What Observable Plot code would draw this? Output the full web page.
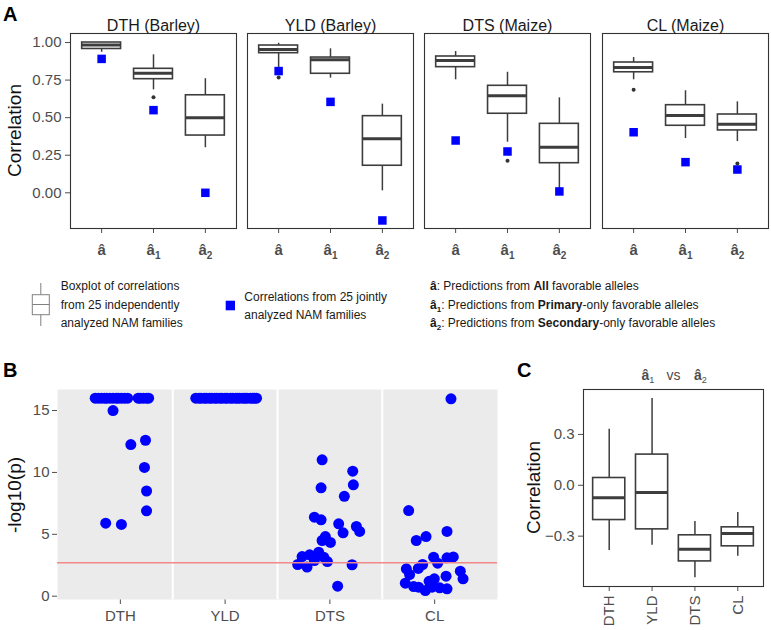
<!DOCTYPE html>
<html><head><meta charset="utf-8">
<script src="https://cdn.jsdelivr.net/npm/d3@7"></script>
<script src="https://cdn.jsdelivr.net/npm/@observablehq/plot@0.6"></script>
<style>
body{margin:0;background:#fff;}
#root{position:relative;width:771px;height:630px;overflow:hidden;font-family:"Liberation Sans",Arial,Helvetica,sans-serif;}
#root > svg{position:absolute;}
</style></head><body><div id="root"></div>
<script>
// ---------- Panel A data ----------
const traitsA = ["DTH (Barley)", "YLD (Barley)", "DTS (Maize)", "CL (Maize)"];
const predictorsA = ["â", "â₁", "â₂"];
const yTicksA = [0, 0.25, 0.5, 0.75, 1.0];
// boxplot stats [trait][predictor]
const loA  = [[0.935, 0.685, 0.300], [0.800, 0.763, 0.013], [0.752, 0.337, 0.020], [0.752, 0.361, 0.341]];
const q1A  = [[0.957, 0.756, 0.381], [0.929, 0.792, 0.180], [0.836, 0.526, 0.197], [0.802, 0.446, 0.415]];
const medA = [[0.984, 0.796, 0.499], [0.953, 0.885, 0.359], [0.880, 0.645, 0.303], [0.834, 0.514, 0.456]];
const q3A  = [[1.000, 0.825, 0.649], [0.980, 0.900, 0.510], [0.907, 0.712, 0.459], [0.867, 0.583, 0.521]];
const hiA  = [[1.000, 0.918, 0.759], [0.995, 0.958, 0.590], [0.940, 0.802, 0.632], [0.900, 0.679, 0.605]];
const outTraitA = [0, 1, 2, 3, 3];
const outPredA  = [1, 0, 1, 0, 2];
const outValA   = [0.636, 0.767, 0.213, 0.685, 0.195];
// joint analysis correlations (blue squares)
const jointA = [[0.891, 0.550, 0.000], [0.810, 0.605, -0.184], [0.348, 0.275, 0.009], [0.403, 0.204, 0.155]];

// ---------- Panel B data ----------
const traitsB = ["DTH", "YLD", "DTS", "CL"];
const thresholdB = 2.7;
const dthP = [16,16,16,16,16,16,16,16,16,16,16,16,16,16,16,16,16, 15.0,12.25,12.6,10.4,8.5,6.9,5.9,5.8];
const dthJ = [-0.24,-0.21,-0.18,-0.15,-0.13,-0.10,-0.07,-0.04,-0.02,0.01,0.04,0.07,0.17,0.19,0.22,0.25,0.27, -0.07,0.10,0.24,0.23,0.25,0.25,-0.14,0.01];
const yldP = [16,16,16,16,16,16,16,16,16,16,16,16,16,16,16,16,16,16,16,16,16,16,16,16,16];
const yldJ = [-0.28,-0.25,-0.23,-0.20,-0.18,-0.15,-0.13,-0.10,-0.08,-0.05,-0.03,0.00,0.02,0.05,0.07,0.10,0.12,0.14,0.17,0.19,0.21,0.24,0.26,0.28,0.30];
const dtsP = [11.02,10.1,9.0,8.76,8.07,6.38,6.17,5.85,5.63,5.23,5.12,4.82,4.5,4.34,3.56,3.34,3.2,3.2,3.15,2.56,2.35,2.54,0.81,2.88,2.8];
const dtsJ = [-0.074,0.218,0.224,-0.084,0.138,-0.148,-0.084,0.084,0.253,0.284,0.126,-0.043,-0.074,0.005,-0.107,-0.193,-0.265,-0.16,-0.059,-0.307,-0.218,0.212,0.074,-0.148,-0.024];
const clP  = [6.92,4.82,4.5,5.23,3.15,3.1,2.67,2.56,2.21,2.02,1.75,1.4,1.4,1.62,1.05,0.78,0.46,0.73,0.68,0.6,0.73,15.95,1.2,3.17,2.24];
const clJ  = [-0.248,-0.082,-0.175,0.118,-0.01,0.118,0.029,-0.115,-0.27,0.245,-0.239,0.271,-0.003,0.109,-0.28,-0.2,-0.089,-0.025,0.048,0.118,-0.153,0.156,-0.053,0.178,-0.156];

// ---------- Panel C data ----------
const traitsC = ["DTH", "YLD", "DTS", "CL"];
const yTicksC = [-0.3, 0, 0.3];
const loC  = [-0.384, -0.354, -0.545, -0.419];
const q1C  = [-0.205, -0.260, -0.449, -0.360];
const medC = [-0.073, -0.043, -0.378, -0.284];
const q3C  = [0.043, 0.181, -0.295, -0.248];
const hiC  = [0.331, 0.512, -0.213, -0.161];

// ---------- helpers ----------
const root = document.getElementById("root");
const FONT = '"Liberation Sans", Arial, Helvetica, sans-serif';
const BOXC = "#3d3d3d";
const SVGNS = "http://www.w3.org/2000/svg";
const baseStyle = {fontFamily: FONT, fontSize: "15px", color: "#4d4d4d", background: "transparent", overflow: "visible"};
function place(svg, left, top) {
  svg.style.position = "absolute";
  svg.style.left = left + "px";
  svg.style.top = top + "px";
  root.appendChild(svg);
  return svg;
}
// bold x tick labels; turn unicode subscripts into real lowered tspans
function styleXTicks(svg) {
  const subs = {"₁": "1", "₂": "2"};
  svg.querySelectorAll('g[aria-label^="x-axis"] text').forEach(t => {
    t.setAttribute("font-weight", "bold");
    const s = t.textContent;
    const last = s.slice(-1);
    if (subs[last]) {
      t.textContent = "";
      const a = document.createElementNS(SVGNS, "tspan");
      a.textContent = s.slice(0, -1);
      const b = document.createElementNS(SVGNS, "tspan");
      b.setAttribute("font-size", "10");
      b.setAttribute("dy", "4");
      b.textContent = subs[last];
      t.appendChild(a); t.appendChild(b);
    }
  });
}
function boxMarks(rows, hw) {
  return [
    Plot.ruleX(rows, {x: "i", y1: "q3", y2: "hi", stroke: BOXC, strokeWidth: 1.5}),
    Plot.ruleX(rows, {x: "i", y1: "lo", y2: "q1", stroke: BOXC, strokeWidth: 1.5}),
    Plot.rect(rows, {x1: d => d.i - hw, x2: d => d.i + hw, y1: "q1", y2: "q3", fill: "white", stroke: BOXC, strokeWidth: 1.6}),
    Plot.ruleY(rows, {y: "med", x1: d => d.i - hw, x2: d => d.i + hw, stroke: BOXC, strokeWidth: 3})
  ];
}

// ---------- Panel A ----------
const facetFrameLeft = [70, 247, 424, 602];
traitsA.forEach((trait, t) => {
  const rows = predictorsA.map((p, k) => ({i: k + 1, lo: loA[t][k], q1: q1A[t][k], med: medA[t][k], q3: q3A[t][k], hi: hiA[t][k], joint: jointA[t][k]}));
  const outs = outValA.map((v, k) => ({t: outTraitA[k], i: outPredA[k] + 1, v})).filter(o => o.t === t);
  const first = t === 0;
  const svg = Plot.plot({
    width: first ? 237 : 168, height: 265,
    marginLeft: first ? 70 : 1, marginRight: 1, marginTop: 33, marginBottom: 37,
    style: baseStyle,
    x: {domain: [0.4, 3.6], ticks: [1, 2, 3], tickFormat: i => predictorsA[i - 1], tickSize: 5, tickPadding: 11, label: null},
    y: first
      ? {domain: [-0.2375, 1.06], ticks: yTicksA, tickFormat: d3.format(".2f"), tickSize: 5, tickPadding: 4, label: null}
      : {domain: [-0.2375, 1.06], axis: null},
    marks: [
      ...boxMarks(rows, 0.375),
      Plot.dot(outs, {x: "i", y: "v", r: 2, fill: "#333", stroke: "none"}),
      Plot.dot(rows, {x: "i", y: "joint", symbol: "square", r: 4.8, fill: "#0000ff", stroke: "none"}),
      Plot.frame({stroke: "#333", strokeWidth: 1.1}),
      Plot.text([trait], {frameAnchor: "top", dy: -14, fontSize: 16, fill: "#1a1a1a", text: d => d})
    ]
  });
  styleXTicks(svg);
  place(svg, first ? 0 : facetFrameLeft[t] - 1, 0);
});

// ---------- Panel B ----------
const ptsB = [];
[[dthP, dthJ], [yldP, yldJ], [dtsP, dtsJ], [clP, clJ]].forEach(([vals, jit], k) => {
  vals.forEach((v, j) => ptsB.push({x: k + 1 + jit[j], y: v, trait: traitsB[k]}));
});
const svgB = Plot.plot({
  width: 500, height: 250, marginLeft: 57, marginRight: 3, marginTop: 9, marginBottom: 31,
  style: baseStyle,
  x: {domain: [0.4, 4.6], ticks: [1, 2, 3, 4], tickFormat: i => traitsB[i - 1], tickSize: 5, tickPadding: 6, label: null},
  y: {domain: [-0.267, 16.7], ticks: [0, 5, 10, 15], tickSize: 5, tickPadding: 3, label: null},
  marks: [
    Plot.frame({fill: "#ebebeb", stroke: "none"}),
    Plot.ruleX(traitsB.slice(1).map((d, k) => k + 1.5), {stroke: "white", strokeWidth: 2}),
    Plot.dot(ptsB, {x: "x", y: "y", r: 5.5, fill: "#0000ff", stroke: "none"}),
    Plot.ruleY([thresholdB], {stroke: "#f08a8a", strokeWidth: 1.6})
  ]
});
place(svgB, 0, 380);

// ---------- Panel C ----------
const rowsC = traitsC.map((c, k) => ({i: k + 1, lo: loC[k], q1: q1C[k], med: medC[k], q3: q3C[k], hi: hiC[k]}));
const svgC = Plot.plot({
  width: 271, height: 250, marginLeft: 83, marginRight: 8, marginTop: 9, marginBottom: 44,
  style: baseStyle,
  x: {domain: [0.4, 4.6], ticks: [1, 2, 3, 4], tickFormat: i => traitsC[i - 1], tickSize: 5, tickPadding: 4, tickRotate: -90, label: null},
  y: {domain: [-0.597, 0.565], ticks: yTicksC, tickFormat: d3.format(".1f"), tickSize: 5, tickPadding: 4, label: null},
  marks: [
    ...boxMarks(rowsC, 0.375),
    Plot.frame({stroke: "#333", strokeWidth: 1.1})
  ]
});
place(svgC, 500, 380);

// ---------- annotations (panel letters, axis titles, legend) ----------
const ov = d3.create("svg").attr("width", 771).attr("height", 630)
  .style("position", "absolute").style("left", "0px").style("top", "0px")
  .style("pointer-events", "none").style("font-family", FONT);
const txt = (x, y, s, opts = {}) => {
  const e = ov.append("text").attr("x", x).attr("y", y).text(s)
    .attr("font-size", opts.size || 12).attr("fill", opts.fill || "#111");
  if (opts.weight) e.attr("font-weight", opts.weight);
  if (opts.anchor) e.attr("text-anchor", opts.anchor);
  if (opts.transform) e.attr("transform", opts.transform).attr("x", 0).attr("y", 0);
  return e;
};
txt(3, 20.5, "A", {size: 20, weight: "bold", fill: "#000"});
txt(3, 376.5, "B", {size: 20, weight: "bold", fill: "#000"});
txt(517, 376.5, "C", {size: 20, weight: "bold", fill: "#000"});
txt(0, 0, "Correlation", {size: 19, anchor: "middle", transform: "translate(21,130.5) rotate(-90)"});
txt(0, 0, "-log10(p)", {size: 19, anchor: "middle", transform: "translate(21,495) rotate(-90)"});
txt(0, 0, "Correlation", {size: 19, anchor: "middle", transform: "translate(539.5,487.5) rotate(-90)"});

// panel C title: â1 vs â2
function hatSub(x, y, sub, size, fill) {
  const e = ov.append("text").attr("x", x).attr("y", y).attr("font-size", size).attr("fill", fill);
  e.append("tspan").attr("font-weight", "bold").text("â");
  e.append("tspan").attr("font-size", size * 0.65).attr("dy", size * 0.28).text(sub);
  return e;
}
hatSub(641.5, 379.5, "1", 14, "#4d4d4d");
txt(666.5, 379.5, "vs", {size: 14, fill: "#4d4d4d"});
hatSub(694, 379.5, "2", 14, "#4d4d4d");

// legend: boxplot glyph
const g = ov.append("g").attr("stroke", "#808080").attr("stroke-width", 1).attr("fill", "none");
g.append("line").attr("x1", 40.8).attr("x2", 40.8).attr("y1", 283).attr("y2", 294.7);
g.append("rect").attr("x", 32.3).attr("y", 294.7).attr("width", 17).attr("height", 20);
g.append("line").attr("x1", 32.3).attr("x2", 49.3).attr("y1", 304.5).attr("y2", 304.5);
g.append("line").attr("x1", 40.8).attr("x2", 40.8).attr("y1", 314.7).attr("y2", 326);
["Boxplot of correlations", "from 25 independently", "analyzed NAM families"].forEach((s, k) =>
  txt(60.7, [289.6, 309, 327.4][k], s, {size: 12, fill: "#1a1a1a"}));
// legend: blue square
ov.append("rect").attr("x", 225.7).attr("y", 300.7).attr("width", 9.3).attr("height", 9.6).attr("fill", "#0000ff");
["Correlations from 25 jointly", "analyzed NAM families"].forEach((s, k) =>
  txt(244.3, [300.6, 319][k], s, {size: 12, fill: "#1a1a1a"}));
// legend: predictor descriptions
const descr = [["", "All", " favorable alleles"], ["1", "Primary", "-only favorable alleles"], ["2", "Secondary", "-only favorable alleles"]];
descr.forEach(([sub, bold, rest], k) => {
  const y = [290.3, 308.5, 327.3][k];
  const e = ov.append("text").attr("x", 430).attr("y", y).attr("font-size", 12).attr("fill", "#1a1a1a");
  e.append("tspan").attr("font-weight", "bold").text("â");
  if (sub) {
    e.append("tspan").attr("font-weight", "bold").attr("font-size", 8).attr("dy", 3).text(sub);
    e.append("tspan").attr("dy", -3).text(": Predictions from ");
  } else {
    e.append("tspan").text(": Predictions from ");
  }
  e.append("tspan").attr("font-weight", "bold").text(bold);
  e.append("tspan").text(rest);
});
root.appendChild(ov.node());
</script></body></html>
